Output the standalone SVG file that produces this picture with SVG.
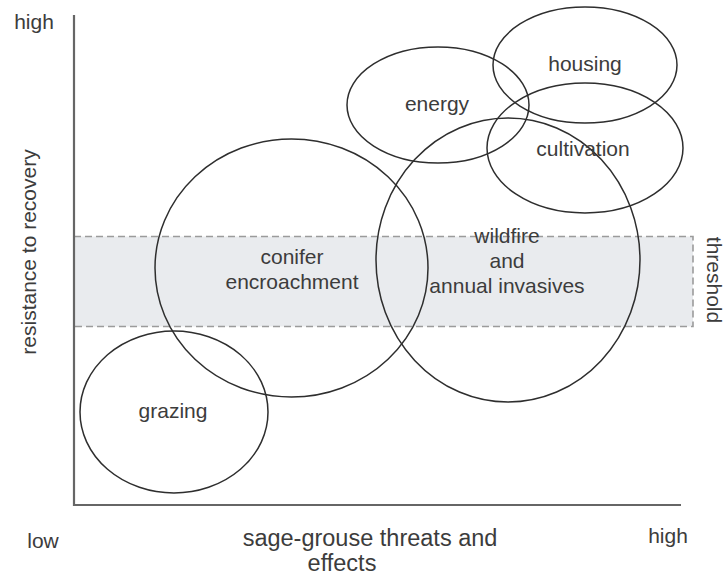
<svg xmlns="http://www.w3.org/2000/svg" width="725" height="580" viewBox="0 0 725 580">
<style>
text{font-family:"Liberation Sans",Arial,sans-serif;fill:#3c3c3c;text-anchor:middle}
.lbl{font-size:21px}
.ax{font-size:21px}
.title{font-size:23.5px}
.node{fill:none;stroke:#2e2e2e;stroke-width:1.5}
.axis{stroke:#666;stroke-width:2.2;fill:none}
.band{fill:#e9ebee;stroke:#9b9b9b;stroke-width:1.6;stroke-dasharray:7 4}
</style>
<rect width="725" height="580" fill="#fff"/>
<g id="threshold">
<rect class="band" x="74" y="236.5" width="619" height="90"/>
<text class="ax" transform="translate(707,280) rotate(90)">threshold</text>
</g>
<g id="axes">
<polyline class="axis" points="74,15 74,505 681,505"/>
<text class="ax" x="34" y="29">high</text>
<text class="ax" x="43" y="548">low</text>
<text class="ax" x="668" y="543">high</text>
<text class="ax" transform="translate(36,252) rotate(-90)">resistance to recovery</text>
<text class="title" x="370" y="546">sage-grouse threats and</text>
<text class="title" x="342" y="571">effects</text>
</g>
<g id="connectors"></g>
<g id="grazing">
<ellipse class="node" cx="174" cy="412" rx="94" ry="81"/>
<text class="lbl" x="173" y="418">grazing</text>
</g>
<g id="conifer">
<ellipse class="node" cx="291.5" cy="268" rx="136.5" ry="129"/>
<text class="lbl" x="292" y="264">conifer</text>
<text class="lbl" x="292" y="289">encroachment</text>
</g>
<g id="wildfire">
<ellipse class="node" cx="508" cy="260" rx="132" ry="142"/>
<text class="lbl" x="507" y="243">wildfire</text>
<text class="lbl" x="507" y="268">and</text>
<text class="lbl" x="507" y="293">annual invasives</text>
</g>
<g id="energy">
<ellipse class="node" cx="438" cy="105" rx="91" ry="58"/>
<text class="lbl" x="437" y="111">energy</text>
</g>
<g id="housing">
<ellipse class="node" cx="585" cy="65" rx="92" ry="58"/>
<text class="lbl" x="585" y="71">housing</text>
</g>
<g id="cultivation">
<ellipse class="node" cx="585" cy="148" rx="98" ry="65"/>
<text class="lbl" x="583" y="156">cultivation</text>
</g>
</svg>
